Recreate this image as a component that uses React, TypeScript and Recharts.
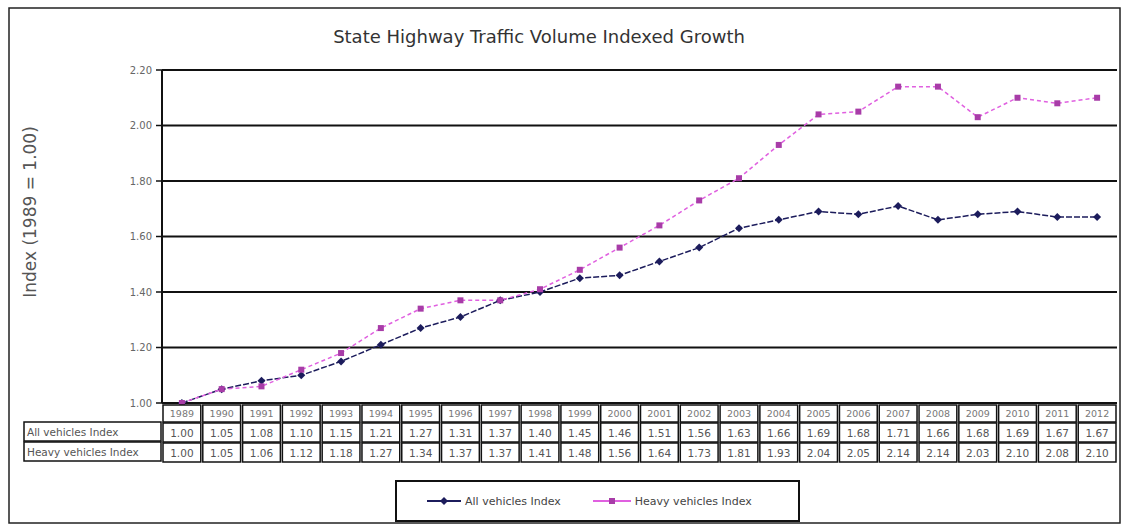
import React from 'react';
import { LineChart, Line, XAxis, YAxis, CartesianGrid, Legend } from 'recharts';

const years = [
  '1989', '1990', '1991', '1992', '1993', '1994', '1995', '1996', '1997', '1998', '1999', '2000',
  '2001', '2002', '2003', '2004', '2005', '2006', '2007', '2008', '2009', '2010', '2011', '2012',
];
const allVehicles = [
  1.0, 1.05, 1.08, 1.1, 1.15, 1.21, 1.27, 1.31, 1.37, 1.4, 1.45, 1.46,
  1.51, 1.56, 1.63, 1.66, 1.69, 1.68, 1.71, 1.66, 1.68, 1.69, 1.67, 1.67,
];
const heavyVehicles = [
  1.0, 1.05, 1.06, 1.12, 1.18, 1.27, 1.34, 1.37, 1.37, 1.41, 1.48, 1.56,
  1.64, 1.73, 1.81, 1.93, 2.04, 2.05, 2.14, 2.14, 2.03, 2.1, 2.08, 2.1,
];
const yTicks = [1.0, 1.2, 1.4, 1.6, 1.8, 2.0, 2.2];
const seriesNames = ['All vehicles Index', 'Heavy vehicles Index'];

const data = years.map((year, i) => ({
  year,
  all: allVehicles[i],
  heavy: heavyVehicles[i],
}));

const NAVY = '#1c1c5c';
const PINK = '#e060e0';
const PURPLE = '#a83ca8';
const FONT = '"DejaVu Sans", Verdana, sans-serif';

// width of one year column in the table under the plot
const CELL_W = 955 / 24;

const Diamond = (props: any) => {
  const { cx, cy, index } = props;
  if (cx == null || cy == null) return null;
  return (
    <path
      key={`d-${index}`}
      d={`M${cx} ${cy - 4}L${cx + 4} ${cy}L${cx} ${cy + 4}L${cx - 4} ${cy}Z`}
      fill={NAVY}
    />
  );
};

const Square = (props: any) => {
  const { cx, cy, index } = props;
  if (cx == null || cy == null) return null;
  return <rect key={`s-${index}`} x={cx - 3} y={cy - 3} width={6} height={6} fill={PURPLE} />;
};

// data table drawn as the x axis ticks
const TableTick = (props: any) => {
  const { x, y, payload } = props;
  const i = payload.index;
  const left = x - CELL_W / 2 + 1;
  const w = CELL_W - 2;
  return (
    <g fontFamily={FONT}>
      <rect x={left} y={y + 2} width={w} height={17} fill="#fff" stroke="#111" strokeWidth={1.5} />
      <text x={x} y={y + 14} textAnchor="middle" fontSize={9.5} fill="#777">
        {payload.value}
      </text>
      <rect x={left} y={y + 20} width={w} height={19} fill="#fff" stroke="#111" strokeWidth={1.5} />
      <text x={x} y={y + 33.5} textAnchor="middle" fontSize={10.5} fill="#555">
        {allVehicles[i].toFixed(2)}
      </text>
      <rect x={left} y={y + 40} width={w} height={19} fill="#fff" stroke="#111" strokeWidth={1.5} />
      <text x={x} y={y + 53.5} textAnchor="middle" fontSize={10.5} fill="#555">
        {heavyVehicles[i].toFixed(2)}
      </text>
    </g>
  );
};

const LegendBox = () => (
  <div
    style={{
      width: 405,
      height: 42,
      boxSizing: 'border-box',
      border: '2px solid #111',
      background: '#fff',
      display: 'flex',
      alignItems: 'center',
      fontFamily: FONT,
      fontSize: 11,
      color: '#444',
    }}
  >
    <svg width={36} height={10} style={{ marginLeft: 30 }}>
      <line x1={0} y1={5} x2={34} y2={5} stroke={NAVY} strokeWidth={2} />
      <path d="M17 1L21 5L17 9L13 5Z" fill={NAVY} />
    </svg>
    <span style={{ marginLeft: 2 }}>{seriesNames[0]}</span>
    <svg width={40} height={10} style={{ marginLeft: 32 }}>
      <line x1={0} y1={5} x2={38} y2={5} stroke={PINK} strokeWidth={2} />
      <rect x={16} y={2} width={6} height={6} fill={PURPLE} />
    </svg>
    <span style={{ marginLeft: 2 }}>{seriesNames[1]}</span>
  </div>
);

export default function App() {
  return (
    <div
      style={{
        position: 'absolute',
        left: 0,
        top: 0,
        width: 1123,
        height: 525,
        background: '#fff',
        fontFamily: FONT,
      }}
    >
      <svg width={1123} height={525} style={{ position: 'absolute', left: 0, top: 0 }}>
        <rect x={9} y={8} width={1111} height={515} fill="#fff" stroke="#222" strokeWidth={1.5} />
        <text x={539} y={43} textAnchor="middle" fontSize={18} fill="#333" fontFamily={FONT}>
          State Highway Traffic Volume Indexed Growth
        </text>
        <text
          x={30}
          y={212}
          textAnchor="middle"
          dominantBaseline="central"
          fontSize={17}
          fill="#555"
          fontFamily={FONT}
          transform="rotate(-90, 30, 212)"
        >
          Index (1989 = 1.00)
        </text>
        <rect x={24} y={422} width={137} height={19} fill="#fff" stroke="#111" strokeWidth={1.5} />
        <rect x={24} y={442} width={137} height={19} fill="#fff" stroke="#111" strokeWidth={1.5} />
        <text x={27} y={435.5} fontSize={10.5} fill="#555" fontFamily={FONT}>
          {seriesNames[0]}
        </text>
        <text x={27} y={455.5} fontSize={10.5} fill="#555" fontFamily={FONT}>
          {seriesNames[1]}
        </text>
      </svg>
      <div style={{ position: 'absolute', left: 0, top: 0 }}>
        <LineChart
          width={1123}
          height={525}
          data={data}
          margin={{ top: 70, right: 6, bottom: 62, left: 102 }}
        >
          <CartesianGrid vertical={false} stroke="#111" strokeWidth={2} />
          <XAxis
            dataKey="year"
            scale="band"
            height={60}
            axisLine={false}
            tickLine={false}
            tickSize={0}
            tickMargin={0}
            interval={0}
            tick={<TableTick />}
          />
          <YAxis
            width={60}
            domain={[1, 2.2]}
            ticks={yTicks}
            tickFormatter={(v: number) => v.toFixed(2)}
            axisLine={{ stroke: '#111', strokeWidth: 2 }}
            tickLine={{ stroke: '#111', strokeWidth: 1.5 }}
            tickSize={6}
            tickMargin={4}
            tick={{ fill: '#666', fontSize: 10, fontFamily: FONT }}
          />
          <Legend
            layout="horizontal"
            verticalAlign="middle"
            align="center"
            wrapperStyle={{ left: 395, top: 480, width: 405, height: 42 }}
            content={() => <LegendBox />}
          />
          <Line
            type="linear"
            dataKey="all"
            name={seriesNames[0]}
            stroke={NAVY}
            strokeWidth={1.5}
            strokeDasharray="6 2"
            dot={<Diamond />}
            activeDot={false}
            isAnimationActive={false}
          />
          <Line
            type="linear"
            dataKey="heavy"
            name={seriesNames[1]}
            stroke={PINK}
            strokeWidth={1.5}
            strokeDasharray="4 3"
            dot={<Square />}
            activeDot={false}
            isAnimationActive={false}
          />
        </LineChart>
      </div>
    </div>
  );
}
